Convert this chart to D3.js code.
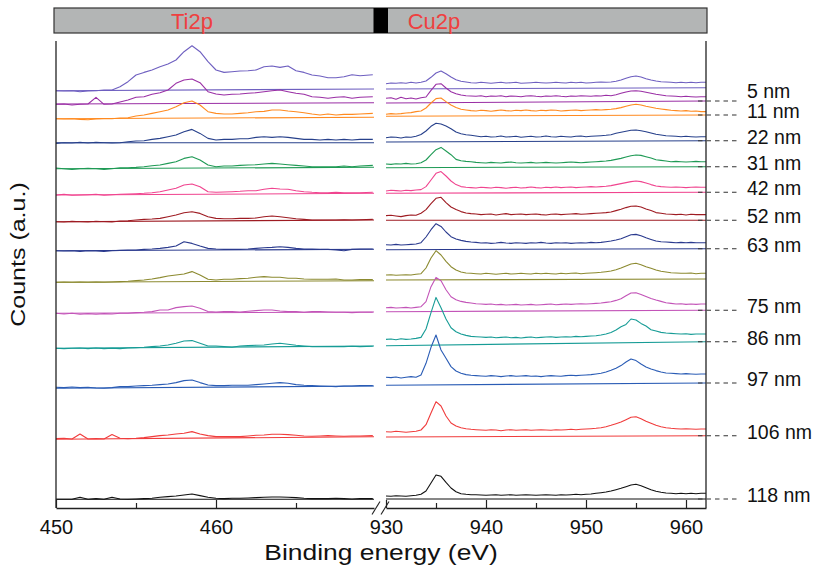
<!DOCTYPE html>
<html>
<head>
<meta charset="utf-8">
<script src="https://cdn.jsdelivr.net/npm/d3@7"></script>
<style>
  body { margin: 0; background: #fff; }
  svg { display: block; }
</style>
</head>
<body>
<svg id="chart" width="813" height="566"></svg>
<script>
// ---- Sampling grids (binding energy, eV) ----
const tiEnergy = [450,450.5,451,451.5,452,452.5,453,453.5,454,454.5,455,455.5,456,456.5,457,457.5,458,458.5,459,459.5,
  460,460.5,461,461.5,462,462.5,463,463.5,464,464.5,465,465.5,466,466.5,467,467.5,468,468.5,469,469.8];
const cuEnergy = [930,930.5,931,931.5,932,932.5,933,933.5,934,934.5,935,935.5,936,936.5,937,937.5,938,938.5,939,939.5,
  940,940.5,941,941.5,942,942.5,943,943.5,944,944.5,945,945.5,946,946.5,947,947.5,948,948.5,949,949.5,
  950,950.5,951,951.5,952,952.5,953,953.5,954,954.5,955,955.5,956,956.5,957,957.5,958,958.5,959,959.5,
  960,960.5,961,961.5,962];

// ---- Axis ticks ----
const tiMajorTicks = [450, 460];
const tiMinorTicks = [455, 465];
const cuMajorTicks = [930, 940, 950, 960];
const cuMinorTicks = [935, 945, 955];

// ---- Region headers (label, centre energy) ----
const regionNames = ["Ti2p", "Cu2p"];
const regionCentres = [458.5, 934.8];

// ---- Depth labels, one per spectrum (top to bottom) ----
const depthLabels = ["", "5 nm", "11 nm", "22 nm", "31 nm", "42 nm", "52 nm", "63 nm", "", "75 nm", "86 nm", "97 nm", "106 nm", "118 nm"];
const spectrumColors = ["#6e5fc0", "#9a2fa5", "#ff8a20", "#27408b", "#1f9a55", "#f0448f", "#9e1b22",
  "#2a3a8e", "#8c8a30", "#c354b8", "#179c96", "#2a5cb5", "#f03c3c", "#111111"];

// ---- Stack offsets (background level at start / end of each window, counts) ----
const tiBaseStart = [417.3, 404, 389.3, 365.3, 339.3, 313, 286.3, 257.3, 225.7, 194.7, 159.7, 119.7, 68.7, 8.7];
const tiBaseEnd   = [419, 405.3, 390.7, 365.3, 340.7, 314.7, 288, 258.7, 227.3, 196, 162, 122, 71.3, 8.7];
const cuBaseStart = [419, 405, 391.7, 366, 340.3, 314.7, 287.7, 258.3, 228, 196.3, 162.3, 122.7, 71, 9];
const cuBaseEnd   = [420.3, 407, 393, 367.3, 341.3, 315.7, 287.7, 259.3, 229, 197.7, 166.3, 125, 72.3, 9];

// ---- Ti2p window: counts above the offset ----
const tiSpectra = [
  [0,-0.3,0,-1,-0.3,0,0.7,0.7,4,9,15.7,18.3,20.7,24,26.7,30.7,39,45,39,29,20.7,18.3,19,19.7,20,20.7,24,24.7,23.3,24.7,20,18.3,15.7,14.7,13,13,14,16,15,16],
  [-0.3,0,-1,-0.3,0,6.7,-0.3,0,2,4,6.7,7.3,9.7,11.3,14,20.7,24,25,21.3,12.3,10,9,9.7,10,10.7,11.3,12.3,13.3,14,12.3,10.7,9.7,7.3,6.7,5.7,6.7,7.3,5.7,6.7,7.3],
  [0,-0.3,0,-0.7,-1,-0.3,0,0,0.7,1,2.7,3.7,5.3,7,8.7,12,16,17.7,13.7,7,5.3,4.7,4.7,5.3,6,7,7.3,8.7,8.7,7.7,7,6,4.7,3.7,4.7,3.7,4.3,4.3,4.7,5.3],
  [-0.7,0,-0.3,0.3,-0.3,0.3,0,-0.3,0,1,1.7,2,3.3,4.3,6,7.7,11,13.3,9.3,4.3,2.7,3.3,3.3,4,4,5.3,6,5.3,6,5.3,4.3,3.3,3.3,2.7,3.3,2.7,3.3,2.7,3.3,3.3],
  [0.7,0,-0.7,0,0.3,0,-0.7,0,1,1,1.3,2,3,3.7,5.3,7,10.3,12,8.7,3.7,2,2.7,2.7,3.3,3.7,4,4.7,5.3,4.7,4,3.3,2.7,2,2,2,2,2.7,2,2.7,3.3],
  [0,0.7,-0.3,0,0.3,0.7,-0.3,0.3,0.7,1,1.3,1.7,2.3,3.3,5,6.7,10,11,8.3,3.3,2.7,3,3.3,3.7,4.3,4.3,5.7,6.7,6,5.7,4.3,3.3,2.7,2.3,2.3,2.7,2.3,2.3,2.3,2.7],
  [0,-0.3,0.3,0,-0.3,0.3,0,-0.3,0.7,1,1.7,2.3,2.7,3.3,5,6.7,9,10,8.3,5,3.3,3,3,3.3,3.3,3.7,5,5.7,5,4,3,2.3,1.7,1.7,1.7,1.7,2,1.7,2,2.3],
  [0,-0.3,0,-0.7,0,-0.3,-0.7,0,0.3,0.7,0.7,1.3,1.7,2.3,3.3,4.7,9,7.3,4.7,2.3,1.7,1.3,1.3,1.3,1.7,2.3,3,3.3,4,3.3,2.3,1.7,1.7,1.3,1.3,0.7,0,1.3,1.7,1.7],
  [0,0.3,0,0.3,0,0.3,0,0.3,0.7,1,1.7,2.3,3.3,4.7,6.3,7.3,8.3,10.7,7.3,3,2.3,3,3,3.7,4,5,5.7,5,5,4,4,3.3,3,3,3,3.3,2.3,2.3,2.7,2.7],
  [0,-0.7,0,-1,-0.3,-1,-0.3,-0.7,0,0,0.7,1,1.7,3.3,3.3,5.7,6.7,7.3,5,1.7,1.3,1.7,1.7,1.3,2,2.7,3.3,3.3,2.3,1.7,1.7,1,1.7,1.7,1.3,1,1,0.7,1,1],
  [0,-0.3,0,0.3,-0.3,0.3,-0.3,0,-0.3,0.3,0.7,1,1.7,2.3,3.3,5,7.3,7.7,5,2.3,2.3,1.7,1,2.3,2.7,3,3.3,4.3,5,4,3,2.3,1.7,1.7,1.7,1.7,1.7,2,1.7,2],
  [1,0.7,1.3,0.7,1,0.3,0,0.7,1.7,1.7,2.3,2.7,3,3.7,4.3,5.7,7.7,8.3,5.7,3.3,2.7,2.7,3,3,3,3.7,4.3,5,5.7,5,3.7,3,2.7,2.3,2,1.7,2.3,2.3,2.7,2.7],
  [0.7,1,0.3,5.3,0.3,0.7,0.3,4.7,1,0.7,1,1.7,2.7,3.7,4.3,5.3,6,7.7,5.3,3.7,2.7,2.7,2.7,2.7,3.3,4,4.3,5,5,4.7,4,3.3,3,3.3,3.7,3.3,3,3.3,3.3,3.7],
  [0,0,0,2,0,0.7,0,2,0.3,0,0.3,0.7,1,2,2.7,3.3,4.3,5.3,3.7,2,1,0.7,1,1,1.3,1.7,2,2.3,2.3,2,1.7,1,0.7,0.7,0.7,1,0.7,0.3,0.7,0.7]
];

// ---- Cu2p window: counts above the offset ----
const cuSpectra = [
  [5.3,6,5.7,6.3,5.7,6.7,6,6.7, 8,11.7,16,18,15.3,12,9.3,7.7,7,6.3,
   6,6.7,6.3,5.7,6.3,6.7,6,6.3,6.7,5.7,6,6.3,6.7,6.3,6,6.3,6.7,6.3,6,6.7,6.3,6.7,6,6.3,6.7,7,6.7,7,
   7.7,9,10.7,12.3,13,12,10.3,9,8,7.3,7,6.7,6.3,6.7,6.3,6.7,6.3,6.7,6.7],
  [4.7,5.3,3.7,5.7,4.3,5,4,5.3, 6,12.7,18.7,19.3,15,11.3,9.3,8,7.3,7,
   6.7,7.3,6.3,7,6.7,7.3,6.3,7,6.7,6.3,7,7.3,6.7,6.3,7,6.7,7.3,6.7,6.3,7,6.7,7.3,7,6.7,7.3,7,7.7,7.3,
   8.3,9.7,11,12,12.3,11.7,10.7,9.7,8.7,8,7.3,7,6.7,6.3,6.7,6.3,6,6.3,6.3],
  [2,2.7,2.3,2.7,3.3,3.7,4.7,5.3, 8.3,13.3,17.7,18.3,14.7,11.3,8.7,7,6.3,5.7,
   5.3,6,5.7,5,5.7,6.3,5.7,5.3,6,5.7,6.3,5.7,5.3,6,5.7,6.3,6,5.3,5.7,6,6.3,5.7,6,6.3,6.7,6.3,6.7,7,
   7.7,8.7,10,11.3,12,11.3,10,9,8,7.3,6.7,6,5.7,5.3,5.7,5,5.3,4.7,4.7],
  [4.3,5,4.7,4,5,4.7,5.7,7.5, 11,15.7,18.7,18,16,13.3,10,8.3,7.3,6.7,
   6,5.3,5.7,5,5.3,6,5,5.3,5.7,4.7,5.3,5.7,5,5.3,6,5.3,5,5.7,5.3,5,5.7,6,5.3,5.7,6,6.3,6.7,7.3,
   8.7,9.7,10.7,11.7,12,11.3,10.3,9,7.7,7,6.3,6,5.7,5.3,5.7,5.3,5,5.3,5.3],
  [3.7,3.3,4,3.7,4.3,3.7,4, 5,7.7,13,18,20.3,16.7,13,8.3,7,6.3,6,
   5.3,5,4.7,5.3,5,4.7,5.3,5.7,5,4.7,5,5.3,4.7,5,5.3,5,4.7,5,5.3,5.7,5.3,5,5.3,5.7,6,6.3,
   6.7,7.3,8.3,9.3,10.7,12,12.7,12.3,11,9.7,8,7.3,6.7,6,6.3,6,5.7,6,6.3,6,6],
  [2.3,3,2.7,2.3,3,2.7,3.3,3.7, 6.7,13.3,20,21.7,17.3,12.3,8.7,6.7,6,5.7,
   5.3,6,5.7,5.3,6,5.7,5,5.7,6,5.3,5.7,6.3,5.7,5.3,6,5.7,6.3,5.7,6,6.3,5.7,6,6.3,6.7,6.3,6.7,7,7.7,
   8.7,9.7,10.7,11.7,12.3,11.7,10.3,8.7,7.3,6.7,6.3,6,6.3,6,5.7,6,6.3,6,6],
  [4.7,5,4.3,3.7,4.7,5.3,5, 7,10.7,16.7,22,23,17.7,13.3,10.7,8.7,7.3,6.7,
   6.3,5.7,6,6.3,5.3,6,6.7,5.7,6,6.3,5.7,6,6.3,5.7,5.3,6,6.3,5.7,6,6.3,6.7,6,6.3,6.7,7,7.3,7.7,8.3,
   9.7,11,12.7,14,14.3,13.3,11.3,9.7,7.7,7,6.3,6,5.7,6,5.3,6,5.7,5.7,5.7],
  [5,4.7,5.3,4.7,5,5.3,5.7, 7,12.7,20,26,23.3,17.7,13,10.7,9.3,8.3,7.7,
   7.3,6.7,7,6.3,6.7,7.3,6.7,6.3,7,6.7,6.3,7,6.7,7.3,6.7,6.3,7,6.7,7,6.3,6.7,7,6.7,7.3,7,7.3,8,
   8.7,9.7,11,13,15,15.3,14,12,10.3,8.7,8,7.7,7.3,7,7.3,7,7.3,7,7,7],
  [5,5.3,4.7,5,5.3,5,5.7,6.3, 12,22,29.3,25,18.7,13.3,10,8,7,6.7,
   6.3,6,6.7,6.3,5.7,6.3,6.7,6,6.3,6.7,6.3,6,6.7,6.3,6.7,6.3,6,6.7,6.3,6.7,7,6.3,6.7,7,7.3,7.7,8.3,9,
   10.3,12,14,16,16.7,15.3,13.3,11.7,10,8.7,8,7.3,7,6.7,6.7,7,6.3,6.7,6.7],
  [4,4.3,3.7,4,4.3,3.7,4.3, 5,10,25,34.3,31,22,15,12,10.3,9.3,8.7,
   8,7.7,7.3,7.7,7,7.3,6.7,7,7.3,6.7,7,7.3,6.7,7,7.3,7.7,7,7.3,7.7,7.3,7.7,8,7.7,8,8.3,8.7,9.3,10,
   11.3,13,16,18.7,19,17.3,15.3,13.3,11.7,10.3,9,8.3,7.7,8,7.3,7.7,7.3,7.7,7.7],
  [6.3,6.7,6,7,6.3,6.7,7.3, 8.3,16.7,33,48.3,38,26.7,18,14,11.7,10.3,9.3,
   9,8.7,8.3,8.7,8,8.3,8.7,8,8.3,7.7,8.3,8.7,8,8.3,8.7,9,8.3,8.7,9,8.7,9.3,9,9.3,9.7,10,10.7,11.7,13.3,
   15.7,19,21.3,26.7,25.7,22.3,19.7,16,14.7,13.3,12.7,12.3,12,11.7,12,11.3,11.7,11.7,11.7],
  [8,7.7,8.3,7.3,8,8.7,8, 10.3,22,38,50.3,35.3,27,18.7,14.3,12,10.7,10,
   9.7,9.3,9,9.7,9.3,8.7,9.3,9.7,9,9.3,9.7,9,9.3,8.7,9.3,9.7,9.3,9,9.7,10,9.7,10,10.3,10.7,11.3,12,13.3,15,
   17,19.7,23.3,26.3,24.7,21.3,18.3,16.3,14.7,13.3,12.3,12,11.7,11.3,11.7,11.3,11,11.3,11.3],
  [5.3,5,5.7,5.3,4.7,5.3,5.7, 7,12.3,24,35.3,31,21,14,11,9.3,8.3,7.7,
   7.3,7,6.7,7.3,7,6.3,7,7.3,6.7,7,7.3,6.7,7,7.3,7,6.7,7.3,7,7.3,7.7,7.3,7.7,8,8.3,8.7,9.3,10.3,11.7,
   13.3,15,17.3,19.7,20.3,18.3,15.7,13.7,11.7,10.3,9.3,8.7,8.3,8,8.3,8,7.7,8,8],
  [3,2.7,3.3,3,2.7,3.3,3.7, 4.7,8,16,24,22.7,16.7,11,7.3,5.3,4.7,4.3,
   4.3,4,3.7,4,4.3,3.7,4,4.3,3.7,4,4.3,4,3.7,4,4.3,4,3.7,4.3,4,4.3,4.7,4.3,4.7,5,5.7,6.3,7,8,
   9.3,10.7,12.3,14,14.7,13.3,11.3,9.3,7.7,6.7,6,5.7,5.3,5.7,5.3,5.7,5.3,5.7,5.7]
];

// ---- Layout ----
const FONT = "'Liberation Sans', Arial, Helvetica, sans-serif";
const svg = d3.select("#chart");

const y = d3.scaleLinear().domain([0, 467]).range([508, 41]);
const xTi = d3.scaleLinear().domain([450, 469.875]).range([56, 374]);
const xCu = d3.scaleLinear().domain([930, 962]).range([386, 706]);
const yBottom = y(0), yTop = y(467);

// ---- Region header bar ----
const header = svg.append("g");
header.append("rect")
  .attr("x", xTi.range()[0] - 2).attr("y", 8)
  .attr("width", xCu.range()[1] + 1 - (xTi.range()[0] - 2)).attr("height", 25)
  .attr("fill", "#b3b5b5").attr("stroke", "#333").attr("stroke-width", 1.2);
header.append("rect")
  .attr("x", xTi.range()[1] - 0.5).attr("y", 8)
  .attr("width", xCu.range()[0] + 2 - xTi.range()[1] + 0.5).attr("height", 25)
  .attr("fill", "#000");
[xTi, xCu].forEach((sc, i) => {
  header.append("text")
    .attr("x", sc(regionCentres[i])).attr("y", 28.5)
    .attr("text-anchor", "middle")
    .attr("font-family", FONT).attr("font-size", 22)
    .attr("fill", "#ef4040")
    .text(regionNames[i]);
});

// ---- Spectra ----
function drawWindow(sc, energies, spectra, baseStart, baseEnd) {
  const g = svg.append("g");
  spectra.forEach((vals, i) => {
    const col = spectrumColors[i];
    // background level
    g.append("line")
      .attr("x1", sc(energies[0])).attr("x2", sc.range()[1])
      .attr("y1", y(baseStart[i])).attr("y2", y(baseEnd[i]))
      .attr("stroke", col).attr("stroke-width", 1.1);
    const line = d3.line()
      .x((d, k) => sc(energies[k]))
      .y(d => y(baseStart[i] + d));
    g.append("path")
      .attr("d", line(vals))
      .attr("fill", "none")
      .attr("stroke", col)
      .attr("stroke-width", 1.1)
      .attr("stroke-linejoin", "round");
  });
}
drawWindow(xTi, tiEnergy, tiSpectra, tiBaseStart, tiBaseEnd);
drawWindow(xCu, cuEnergy, cuSpectra, cuBaseStart, cuBaseEnd);

// ---- Frame and axes ----
const frame = svg.append("g").attr("stroke", "#222").attr("stroke-width", 1.3);
frame.append("line").attr("x1", xTi.range()[0]).attr("x2", xTi.range()[0]).attr("y1", yTop).attr("y2", yBottom);
frame.append("line").attr("x1", xCu.range()[1]).attr("x2", xCu.range()[1]).attr("y1", yTop).attr("y2", yBottom);

function drawAxis(sc, major, minor) {
  const gMaj = svg.append("g").attr("transform", `translate(0,${yBottom})`)
    .call(d3.axisBottom(sc).tickValues(major).tickSizeInner(-8).tickSizeOuter(0)
      .tickPadding(12).tickFormat(d3.format("d")));
  gMaj.select(".domain").attr("stroke", "#222").attr("stroke-width", 1.3);
  gMaj.selectAll(".tick line").attr("stroke", "#222").attr("stroke-width", 1.2);
  gMaj.selectAll(".tick text").attr("font-family", FONT).attr("font-size", 20).attr("fill", "#111");
  const gMin = svg.append("g").attr("transform", `translate(0,${yBottom})`)
    .call(d3.axisBottom(sc).tickValues(minor).tickSizeInner(-5).tickSizeOuter(0).tickFormat(""));
  gMin.select(".domain").remove();
  gMin.selectAll(".tick line").attr("stroke", "#222").attr("stroke-width", 1.2);
}
drawAxis(xTi, tiMajorTicks, tiMinorTicks);
drawAxis(xCu, cuMajorTicks, cuMinorTicks);

// axis break marks
const brk = svg.append("g").attr("stroke", "#222").attr("stroke-width", 1.1);
[xTi.range()[1] + 2, xCu.range()[0] - 1].forEach(cx => {
  brk.append("line").attr("x1", cx - 4).attr("y1", yBottom + 6.5).attr("x2", cx + 4).attr("y2", yBottom - 6.5);
});

// ---- Depth labels with dashed leaders ----
const labelled = depthLabels.map((t, i) => ({ t, i })).filter(d => d.t !== "");
const leaderX0 = xCu.range()[1] - 8, leaderX1 = xCu.range()[1] + 34;
let nextY = Infinity;
const placed = labelled.slice().reverse().map(d => {
  const lineY = y(cuBaseEnd[d.i]);
  let ly = Math.min(lineY - 4, nextY - 20);
  nextY = ly;
  return { ...d, lineY, ly };
});
const lab = svg.append("g");
placed.forEach(d => {
  lab.append("line")
    .attr("x1", leaderX0).attr("x2", leaderX1)
    .attr("y1", d.lineY).attr("y2", d.lineY)
    .attr("stroke", "#333").attr("stroke-width", 1.1)
    .attr("stroke-dasharray", "4.5,4");
  lab.append("text")
    .attr("x", xCu.range()[1] + 41).attr("y", d.ly).attr("dy", "0.35em")
    .attr("font-family", FONT).attr("font-size", 19.5).attr("fill", "#111")
    .text(d.t);
});

// ---- Axis titles ----
svg.append("text")
  .attr("transform", `translate(${(xTi.range()[0] + xCu.range()[1]) / 2},560) scale(1.18,1)`)
  .attr("text-anchor", "middle")
  .attr("font-family", FONT).attr("font-size", 22.4).attr("fill", "#111")
  .text("Binding energy (eV)");
svg.append("text")
  .attr("transform", `translate(25,${(yTop + yBottom) / 2 - 20}) rotate(-90) scale(1.19,1)`)
  .attr("text-anchor", "middle")
  .attr("font-family", FONT).attr("font-size", 21).attr("fill", "#111")
  .text("Counts (a.u.)");
</script>
</body>
</html>
